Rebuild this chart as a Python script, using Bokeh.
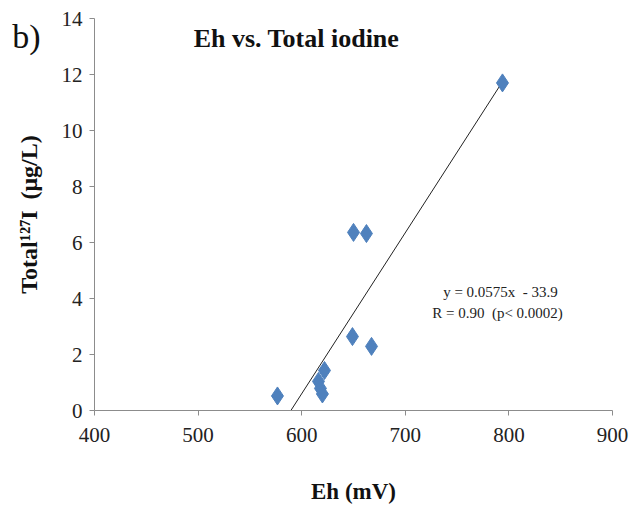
from bokeh.plotting import figure
from bokeh.models import FixedTicker, Label, Range1d
from bokeh.embed import file_html
from bokeh.resources import INLINE

# Measured Eh (mV) and total 127I (ug/L)
eh_mv = [793.8, 650.0, 662.5, 649.0, 667.4, 576.6, 622.0, 616.2, 618.1, 620.0]
total_iodine = [11.7, 6.36, 6.32, 2.64, 2.29, 0.52, 1.43, 1.04, 0.79, 0.59]

# Linear fit reported on the chart
slope = 0.0575
intercept = -33.9
fit_x = [-intercept / slope, 795.0]
fit_y = [slope * x + intercept for x in fit_x]

x_ticks = [400, 500, 600, 700, 800, 900]
y_ticks = [0, 2, 4, 6, 8, 10, 12, 14]

SERIF = "Liberation Serif"
NB = "\u00a0"

# Canvas geometry: the plotting frame fills the whole canvas and the axes are
# pinned inside it, so the panel tag can sit in the top-left corner.
W, H = 631, 520
AX_LEFT, AX_RIGHT, AX_TOP, AX_BOTTOM = 94, 612, 18, 410
X0, X1 = x_ticks[0], x_ticks[-1]
Y0, Y1 = y_ticks[0], y_ticks[-1]
px_per_x = (AX_RIGHT - AX_LEFT) / (X1 - X0)
px_per_y = (AX_BOTTOM - AX_TOP) / (Y1 - Y0)
x_range = Range1d(X0 - AX_LEFT / px_per_x, X1 + (W - AX_RIGHT) / px_per_x)
y_range = Range1d(Y0 - (H - AX_BOTTOM) / px_per_y, Y1 + AX_TOP / px_per_y)


def data_x(px):
    return x_range.start + px / px_per_x


def data_y(py):
    return y_range.end - py / px_per_y


p = figure(width=W, height=H, output_backend="svg", toolbar_location=None,
           x_range=x_range, y_range=y_range, min_border=0)
p.outline_line_color = None
p.grid.visible = False
p.background_fill_color = "white"
p.border_fill_color = "white"

for ax in (p.xaxis[0], p.yaxis[0]):
    ax.axis_line_color = "#8c8c8c"
    ax.major_tick_line_color = "#8c8c8c"
    ax.major_tick_out = 5
    ax.major_tick_in = 0
    ax.minor_tick_line_color = None
    ax.major_label_text_font = SERIF
    ax.major_label_text_font_size = "21px"
    ax.major_label_text_color = "#222222"
    ax.axis_label_text_font = SERIF
    ax.axis_label_text_font_style = "bold"
    ax.axis_label_text_color = "#111111"

p.xaxis.fixed_location = Y0
p.xaxis.bounds = (X0, X1)
p.yaxis.fixed_location = X0
p.yaxis.bounds = (Y0, Y1)
p.xaxis.ticker = FixedTicker(ticks=x_ticks)
p.yaxis.ticker = FixedTicker(ticks=y_ticks)
p.xaxis.major_label_standoff = 12
p.yaxis.major_label_standoff = 7
p.xaxis.axis_label = "Eh (mV)"
p.xaxis.axis_label_text_font_size = "23px"
p.xaxis.axis_label_standoff = 34
p.yaxis.axis_label = "Total\u00b9\u00b2\u2077I\u2009 (\u03bcg/L)"
p.yaxis.axis_label_text_font_size = "24px"
p.yaxis.axis_label_standoff = 17

p.line(fit_x, fit_y, line_color="#222222", line_width=1)
p.scatter(eh_mv, total_iodine, marker="diamond", size=18,
          fill_color="#4f81bd", line_color="#4f81bd")

p.add_layout(Label(x=data_x(296), y=data_y(38), text="Eh vs. Total iodine",
                   text_font=SERIF, text_font_style="bold", text_font_size="26px",
                   text_align="center", text_baseline="middle",
                   text_color="#111111"))
p.add_layout(Label(x=data_x(26), y=data_y(36), text="b)", text_font=SERIF,
                   text_font_size="34px", text_align="center",
                   text_baseline="middle", text_color="#111111"))
p.add_layout(Label(x=data_x(500), y=data_y(291), text=f"y = 0.0575x{NB} - 33.9",
                   text_font=SERIF, text_font_size="15px", text_align="center",
                   text_baseline="middle", text_color="#222222"))
p.add_layout(Label(x=data_x(497), y=data_y(312), text=f"R = 0.90{NB} (p< 0.0002)",
                   text_font=SERIF, text_font_size="15px", text_align="center",
                   text_baseline="middle", text_color="#222222"))

open("out.html", "w").write(file_html(p, INLINE))
